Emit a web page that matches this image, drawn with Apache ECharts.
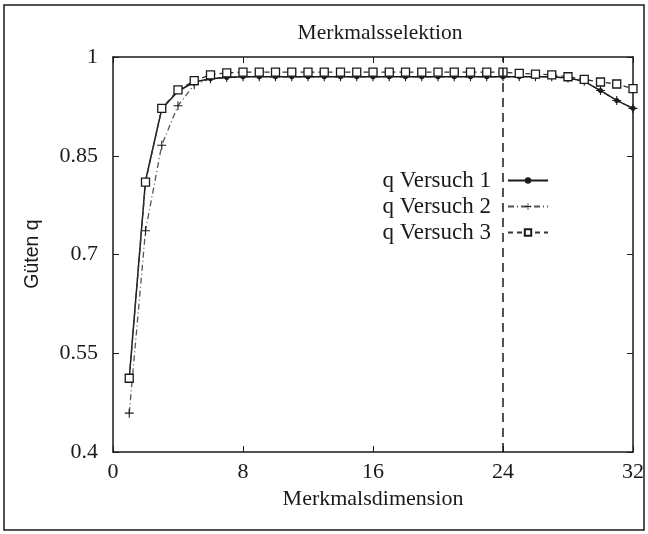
<!DOCTYPE html>
<html><head><meta charset="utf-8">
<script src="https://cdn.jsdelivr.net/npm/echarts@6/dist/echarts.min.js"></script>
<style>html,body{margin:0;padding:0;background:#fff}#c{width:648px;height:534px}</style>
</head><body><div id="c"></div>
<script>
const title = 'Merkmalsselektion';
const xName = 'Merkmalsdimension';
const yName = 'Güten q';
const seriesNames = ['q Versuch 1', 'q Versuch 2', 'q Versuch 3'];
const dims = [1,2,3,4,5,6,7,8,9,10,11,12,13,14,15,16,17,18,19,20,21,22,23,24,25,26,27,28,29,30,31,32];
const q1 = [0.512,0.812,0.921,0.948,0.962,0.967,0.969,0.970,0.970,0.970,0.970,0.970,0.970,0.970,0.970,0.970,0.970,0.970,0.970,0.970,0.970,0.970,0.970,0.970,0.970,0.970,0.970,0.968,0.963,0.949,0.934,0.922];
const q2 = [0.459,0.736,0.866,0.926,0.958,0.967,0.969,0.970,0.970,0.970,0.970,0.970,0.970,0.970,0.970,0.970,0.970,0.970,0.970,0.970,0.970,0.970,0.970,0.970,0.970,0.970,0.970,0.968,0.963,0.949,0.934,0.922];
const q3 = [0.512,0.810,0.922,0.950,0.964,0.973,0.976,0.977,0.977,0.977,0.977,0.977,0.977,0.977,0.977,0.977,0.977,0.977,0.977,0.977,0.977,0.977,0.977,0.977,0.975,0.974,0.973,0.970,0.966,0.962,0.959,0.952];
const xTicks = [0, 8, 16, 24, 32];
const yTicks = [0.4, 0.55, 0.7, 0.85, 1];
const markerX = 24;

const pair = (ys) => dims.map((d, i) => [d, ys[i]]);
const sans = 'Liberation Sans';
const serif = 'Liberation Serif';
const ink = '#1a1a1a';
const plus = 'path://M-0.6,-5H0.6V-0.6H5V0.6H0.6V5H-0.6V0.6H-5V-0.6H-0.6Z';

const chart = echarts.init(document.getElementById('c'), null, {renderer: 'canvas'});
const axisCommon = {
  type: 'value', min: 0, max: 32,
  axisLine: {show: true, onZero: false, lineStyle: {color: ink, width: 1.5}},
  splitLine: {show: false}
};
chart.setOption({
  animation: false,
  backgroundColor: '#fff',
  title: {text: title, left: 375, top: 17, textAlign: 'center',
    textStyle: {fontFamily: serif, fontWeight: 'normal', fontSize: 21.5, color: ink}},
  grid: {left: 113, right: 15, top: 57, bottom: 82},
  legend: {
    orient: 'vertical', right: 94, top: 164, align: 'right',
    itemWidth: 40, itemHeight: 8, itemGap: 3,
    textStyle: {fontFamily: serif, fontSize: 23, color: ink, padding: [0, 12, 0, 0]},
    data: seriesNames
  },
  xAxis: [
    Object.assign({}, axisCommon, {
      position: 'bottom',
      name: xName, nameLocation: 'middle', nameGap: 33,
      nameTextStyle: {fontFamily: serif, fontSize: 22, color: ink},
      axisTick: {show: true, inside: true, length: 6, customValues: xTicks, lineStyle: {color: ink}},
      axisLabel: {customValues: xTicks, margin: 9, fontFamily: serif, fontSize: 22, color: ink}
    }),
    Object.assign({}, axisCommon, {
      position: 'top',
      axisTick: {show: true, inside: true, length: 6, customValues: xTicks, lineStyle: {color: ink}},
      axisLabel: {show: false}
    })
  ],
  yAxis: [
    {
      type: 'value', min: 0.4, max: 1, position: 'left',
      axisLine: {show: true, onZero: false, lineStyle: {color: ink, width: 1.5}},
      splitLine: {show: false},
      axisTick: {show: true, inside: true, length: 6, customValues: yTicks, lineStyle: {color: ink}},
      axisLabel: {customValues: yTicks, margin: 15, fontFamily: serif, fontSize: 22, color: ink,
        formatter: (v) => String(+v.toFixed(2))}
    },
    {
      type: 'value', min: 0.4, max: 1, position: 'right',
      axisLine: {show: true, onZero: false, lineStyle: {color: ink, width: 1.5}},
      splitLine: {show: false},
      axisTick: {show: true, inside: true, length: 6, customValues: yTicks, lineStyle: {color: ink}},
      axisLabel: {show: false}
    }
  ],
  graphic: [
    {type: 'rect', shape: {x: 4, y: 5, width: 640, height: 525}, silent: true,
      style: {fill: 'none', stroke: ink, lineWidth: 1.5}},
    {type: 'text', x: 33, y: 254, rotation: Math.PI / 2,
      style: {text: yName, fontFamily: sans, fontSize: 19.5, fill: ink, align: 'center', verticalAlign: 'middle'}}
  ],
  series: [
    {
      name: seriesNames[0], type: 'line', data: pair(q1),
      symbol: 'circle', symbolSize: 5, showSymbol: true,
      lineStyle: {color: ink, width: 1.5, type: 'solid'},
      itemStyle: {color: ink},
      z: 3,
      markLine: {
        silent: true, symbol: 'none', label: {show: false},
        lineStyle: {color: ink, type: [9, 6], width: 1.5},
        data: [{xAxis: markerX}]
      }
    },
    {
      name: seriesNames[1], type: 'line', data: pair(q2),
      symbol: plus, symbolSize: 9,
      lineStyle: {color: '#555', width: 1.3, type: [6, 3, 1, 3]},
      itemStyle: {color: ink},
      z: 2
    },
    {
      name: seriesNames[2], type: 'line', data: pair(q3),
      symbol: 'rect', symbolSize: 8,
      lineStyle: {color: '#333', width: 1.3, type: [5, 4]},
      itemStyle: {color: '#fff', borderColor: ink, borderWidth: 1.3},
      z: 4
    }
  ]
});
</script></body></html>
